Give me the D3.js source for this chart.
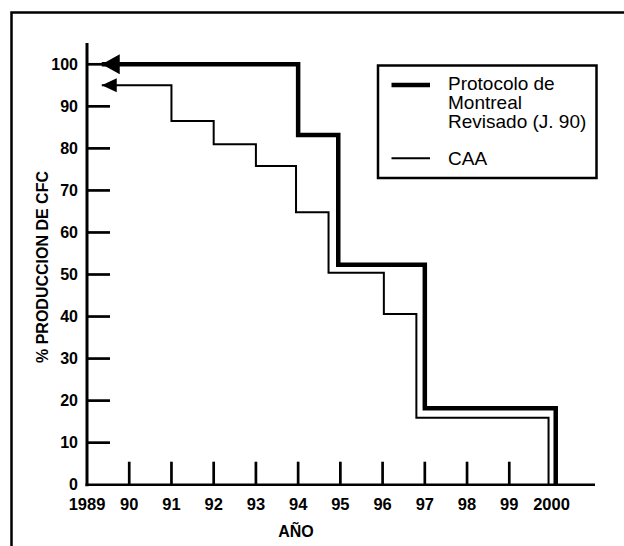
<!DOCTYPE html>
<html>
<head>
<meta charset="utf-8">
<script src="https://cdn.jsdelivr.net/npm/d3@7"></script>
<style>
  body { margin: 0; background: #fff; }
  svg { display: block; font-family: "Liberation Sans", Arial, sans-serif; }
</style>
</head>
<body>
<div id="chart"></div>
<script>
// tick labels
const yTicks = [0, 10, 20, 30, 40, 50, 60, 70, 80, 90, 100];
const xTicks = [1989, 1990, 1991, 1992, 1993, 1994, 1995, 1996, 1997, 1998, 1999, 2000];
const xTickLabels = ["1989", "90", "91", "92", "93", "94", "95", "96", "97", "98", "99", "2000"];

// Protocolo de Montreal Revisado (J. 90) - step points (year where the step drops, value)
const montrealYears  = [1989.35, 1994, 1994.95, 1997, 2000.1, 2000.1];
const montrealValues = [100, 100, 83.2, 52.3, 18.2, 0];

// CAA
const caaYears  = [1989.35, 1991, 1992, 1993, 1993.95, 1994.72, 1996.03, 1996.8, 1999.93, 1999.93];
const caaValues = [95, 95, 86.5, 81, 75.8, 64.8, 50.4, 40.6, 15.9, 0];

const legendLabels = [["Protocolo de", "Montreal", "Revisado (J. 90)"], ["CAA"]];

const width = 624, height = 546;

const svg = d3.select("#chart").append("svg")
  .attr("width", width)
  .attr("height", height);

const x = d3.scaleLinear().domain([1989, 2000]).range([87, 551.5]);
const y = d3.scaleLinear().domain([0, 100]).range([484.7, 64.3]);

// outer frame (only top and left are drawn in the original)
svg.append("path")
  .attr("d", "M11.5," + height + "V12.5H" + width)
  .attr("fill", "none")
  .attr("stroke", "#000")
  .attr("stroke-width", 2.5);

// axes
svg.append("line")
  .attr("x1", x(1989)).attr("x2", x(1989))
  .attr("y1", 43).attr("y2", y(0) + 1.5)
  .attr("stroke", "#000").attr("stroke-width", 3);

svg.append("line")
  .attr("x1", x(1989) - 1.5).attr("x2", 595)
  .attr("y1", y(0)).attr("y2", y(0))
  .attr("stroke", "#000").attr("stroke-width", 2.5);

// y ticks + labels
svg.selectAll(".ytick")
  .data(yTicks.filter(d => d > 0))
  .enter()
    .append("line")
    .attr("class", "ytick")
    .attr("x1", x(1989)).attr("x2", x(1989) + 23)
    .attr("y1", d => y(d)).attr("y2", d => y(d))
    .attr("stroke", "#000").attr("stroke-width", 2.7);

svg.selectAll(".ylab")
  .data(yTicks)
  .enter()
    .append("text")
    .attr("class", "ylab")
    .attr("x", 78)
    .attr("y", d => y(d))
    .attr("dy", "0.33em")
    .attr("text-anchor", "end")
    .attr("font-size", 16)
    .attr("font-weight", "bold")
    .text(d => d);

// x ticks + labels
svg.selectAll(".xtick")
  .data(xTicks.filter(d => d > 1989 && d < 2000))
  .enter()
    .append("line")
    .attr("class", "xtick")
    .attr("x1", d => x(d)).attr("x2", d => x(d))
    .attr("y1", y(0)).attr("y2", y(0) - 23)
    .attr("stroke", "#000").attr("stroke-width", 2.7);

svg.selectAll(".xlab")
  .data(xTicks)
  .enter()
    .append("text")
    .attr("class", "xlab")
    .attr("x", d => x(d))
    .attr("y", 510)
    .attr("text-anchor", "middle")
    .attr("font-size", 16.5)
    .attr("font-weight", "bold")
    .text((d, i) => xTickLabels[i]);

// axis titles
svg.append("text")
  .attr("x", 296).attr("y", 537)
  .attr("text-anchor", "middle")
  .attr("font-size", 16)
  .attr("font-weight", "bold")
  .text("AÑO");

svg.append("text")
  .attr("transform", "translate(48,267) rotate(-90)")
  .attr("text-anchor", "middle")
  .attr("font-size", 16)
  .attr("font-weight", "bold")
  .text("% PRODUCCION DE CFC");

// step lines
function drawSeries(years, values, strokeWidth, headLen, headHalf) {
  const pts = years.map((d, i) => [x(d), y(values[i])]);

  svg.append("path")
    .attr("d", d3.line().curve(d3.curveStepBefore)(pts))
    .attr("fill", "none")
    .attr("stroke", "#000")
    .attr("stroke-width", strokeWidth)
    .attr("stroke-linejoin", "miter");

  // arrow head pointing left at the start
  const tx = pts[0][0], ty = pts[0][1];
  svg.append("path")
    .attr("d", "M" + tx + "," + ty +
               "L" + (tx + headLen) + "," + (ty - headHalf) +
               "L" + (tx + headLen) + "," + (ty + headHalf) + "Z")
    .attr("fill", "#000");
}

drawSeries(montrealYears, montrealValues, 4.5, 18, 10);
drawSeries(caaYears, caaValues, 2, 15, 7);

// legend
const legend = svg.append("g");

legend.append("rect")
  .attr("x", 378).attr("y", 65.5)
  .attr("width", 218.5).attr("height", 112.5)
  .attr("fill", "#fff")
  .attr("stroke", "#000")
  .attr("stroke-width", 2.5);

legend.append("line")
  .attr("x1", 391.5).attr("x2", 430)
  .attr("y1", 85).attr("y2", 85)
  .attr("stroke", "#000").attr("stroke-width", 4.5);

legend.append("line")
  .attr("x1", 391.5).attr("x2", 430)
  .attr("y1", 158.3).attr("y2", 158.3)
  .attr("stroke", "#000").attr("stroke-width", 2);

legend.selectAll(".l0")
  .data(legendLabels[0])
  .enter()
    .append("text")
    .attr("class", "l0")
    .attr("x", 448)
    .attr("y", (d, i) => 90 + i * 19)
    .attr("font-size", 19)
    .text(d => d);

legend.append("text")
  .attr("x", 448).attr("y", 165)
  .attr("font-size", 19)
  .text(legendLabels[1][0]);
</script>
</body>
</html>
